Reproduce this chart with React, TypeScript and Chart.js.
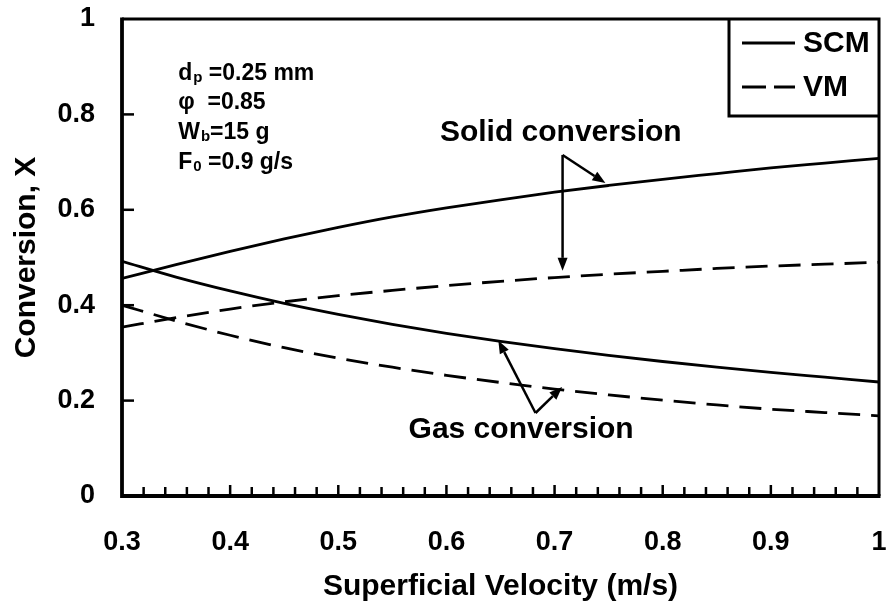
import React, { useEffect, useRef } from "react";
import { Chart, registerables } from "chart.js";

Chart.register(...registerables);

// ---- data ----
const velocity = [0.3, 0.35, 0.4, 0.45, 0.5, 0.55, 0.6, 0.65, 0.7, 0.75, 0.8, 0.85, 0.9, 0.95, 1.0];
const scmSolid = [0.456, 0.485, 0.513, 0.539, 0.563, 0.585, 0.604, 0.621, 0.637, 0.651, 0.664, 0.676, 0.688, 0.698, 0.708];
const scmGas = [0.492, 0.459, 0.43, 0.404, 0.381, 0.36, 0.341, 0.324, 0.309, 0.295, 0.282, 0.27, 0.259, 0.249, 0.239];
const vmSolid = [0.354, 0.374, 0.392, 0.407, 0.42, 0.431, 0.441, 0.45, 0.458, 0.465, 0.471, 0.477, 0.482, 0.486, 0.49];
const vmGas = [0.4, 0.367, 0.337, 0.311, 0.289, 0.27, 0.253, 0.238, 0.224, 0.212, 0.201, 0.191, 0.182, 0.175, 0.168];

const xTickValues = [0.3, 0.4, 0.5, 0.6, 0.7, 0.8, 0.9, 1];
const yTickValues = [0, 0.2, 0.4, 0.6, 0.8, 1];
const xMinorStep = 0.02;
const legendLabels = ["SCM", "VM"];
const paramLines = [
  { main: "d", sub: "p", rest: " =0.25 mm" },
  { main: "\u03C6", sub: "", rest: "  =0.85" },
  { main: "W", sub: "b", rest: "=15 g" },
  { main: "F", sub: "0", rest: " =0.9 g/s" },
];
const solidLabel = "Solid conversion";
const gasLabel = "Gas conversion";

// annotation anchors (data units)
const paramAnchor = { x: 0.352, y: [0.889, 0.828, 0.765, 0.702] };
const solidLabelAnchor = { x: 0.594, y: 0.761 };
const gasLabelAnchor = { x: 0.565, y: 0.138 };
const solidArrowFrom = { x: 0.7074, y: 0.715 };
const solidArrowTo = [{ x: 0.747, y: 0.656 }, { x: 0.7074, y: 0.472 }];
const gasArrowFrom = { x: 0.6824, y: 0.174 };
const gasArrowTo = [{ x: 0.648, y: 0.326 }, { x: 0.707, y: 0.2285 }];

const FONT = "'Liberation Sans', Arial, Helvetica, sans-serif";
const DASH = [22, 11];

function arrow(ctx: CanvasRenderingContext2D, x1: number, y1: number, x2: number, y2: number) {
  const ang = Math.atan2(y2 - y1, x2 - x1);
  const len = 13;
  const hw = 5;
  const bx = x2 - len * Math.cos(ang);
  const by = y2 - len * Math.sin(ang);
  ctx.beginPath();
  ctx.moveTo(x1, y1);
  ctx.lineTo(bx, by);
  ctx.stroke();
  ctx.beginPath();
  ctx.moveTo(x2, y2);
  ctx.lineTo(bx + hw * Math.sin(ang), by - hw * Math.cos(ang));
  ctx.lineTo(bx - hw * Math.sin(ang), by + hw * Math.cos(ang));
  ctx.closePath();
  ctx.fill();
}

const decorPlugin = {
  id: "decor",
  afterDraw(chart: any) {
    const ctx: CanvasRenderingContext2D = chart.ctx;
    const { left, right, top, bottom } = chart.chartArea;
    const xs = chart.scales.x;
    const ys = chart.scales.y;
    ctx.save();
    ctx.strokeStyle = "#000";
    ctx.fillStyle = "#000";
    ctx.lineCap = "butt";

    // frame
    ctx.lineWidth = 3;
    ctx.beginPath();
    ctx.moveTo(left, top);
    ctx.lineTo(right, top);
    ctx.moveTo(right, top - 1.5);
    ctx.lineTo(right, bottom);
    ctx.stroke();
    ctx.lineWidth = 3.8;
    ctx.beginPath();
    ctx.moveTo(left, top - 1.5);
    ctx.lineTo(left, bottom);
    ctx.lineTo(right + 1.5, bottom);
    ctx.stroke();

    // y ticks (inside)
    ctx.lineWidth = 2.5;
    yTickValues.forEach((v) => {
      if (v === 0 || v === 1) return;
      const y = ys.getPixelForValue(v);
      ctx.beginPath();
      ctx.moveTo(left, y);
      ctx.lineTo(left + 12, y);
      ctx.stroke();
    });
    // x ticks (inside), major + minor
    const xmin = xs.min;
    const xmax = xs.max;
    const n = Math.round((xmax - xmin) / xMinorStep);
    for (let i = 1; i < n; i++) {
      const v = xmin + i * xMinorStep;
      const isMajor = i % 5 === 0;
      const x = xs.getPixelForValue(v);
      ctx.beginPath();
      ctx.moveTo(x, bottom);
      ctx.lineTo(x, bottom - (isMajor ? 11 : 9));
      ctx.stroke();
    }

    // legend box
    const bw = 150;
    const bh = 97;
    const bx = right - bw;
    const by = top;
    ctx.lineWidth = 3;
    ctx.beginPath();
    ctx.moveTo(bx, by);
    ctx.lineTo(bx, by + bh);
    ctx.lineTo(right, by + bh);
    ctx.stroke();
    ctx.font = `bold 30px ${FONT}`;
    ctx.textBaseline = "middle";
    ctx.textAlign = "left";
    legendLabels.forEach((lab, i) => {
      const ly = by + 24 + i * 44;
      ctx.lineWidth = 3;
      ctx.setLineDash(i === 1 ? [24, 8] : []);
      ctx.beginPath();
      ctx.moveTo(bx + 13, ly);
      ctx.lineTo(bx + 66, ly);
      ctx.stroke();
      ctx.setLineDash([]);
      ctx.fillText(lab, bx + 74, ly + 1);
    });

    // parameter text block
    ctx.textBaseline = "alphabetic";
    const px = xs.getPixelForValue(paramAnchor.x);
    paramLines.forEach((ln, i) => {
      const cy = ys.getPixelForValue(paramAnchor.y[i]);
      const base = cy + 8;
      let x = px;
      ctx.font = `bold 23px ${FONT}`;
      ctx.fillText(ln.main, x, base);
      x += ctx.measureText(ln.main).width;
      if (ln.sub) {
        ctx.font = `bold 15px ${FONT}`;
        ctx.fillText(ln.sub, x + 1, base + 2);
        x += ctx.measureText(ln.sub).width + 1;
      }
      ctx.font = `bold 23px ${FONT}`;
      ctx.fillText(ln.rest, x, base);
    });

    // big labels
    ctx.font = `bold 30px ${FONT}`;
    ctx.textBaseline = "middle";
    ctx.fillText(solidLabel, xs.getPixelForValue(solidLabelAnchor.x), ys.getPixelForValue(solidLabelAnchor.y));
    ctx.fillText(gasLabel, xs.getPixelForValue(gasLabelAnchor.x), ys.getPixelForValue(gasLabelAnchor.y));

    // arrows
    ctx.lineWidth = 2.5;
    const drawGroup = (from: any, tos: any[]) => {
      const fx = xs.getPixelForValue(from.x);
      const fy = ys.getPixelForValue(from.y);
      tos.forEach((t) => arrow(ctx, fx, fy, xs.getPixelForValue(t.x), ys.getPixelForValue(t.y)));
    };
    drawGroup(solidArrowFrom, solidArrowTo);
    drawGroup(gasArrowFrom, gasArrowTo);

    ctx.restore();
  },
};

export default function App() {
  const ref = useRef<HTMLCanvasElement | null>(null);
  useEffect(() => {
    document.body.style.margin = "0";
    const canvas = ref.current;
    if (!canvas) return;
    const mk = (label: string, data: number[], dashed: boolean) => ({
      label,
      data: velocity.map((v, i) => ({ x: v, y: data[i] })),
      borderColor: "#000",
      backgroundColor: "#000",
      borderWidth: 2.8,
      borderDash: dashed ? DASH : [],
      pointRadius: 0,
      tension: 0.4,
      cubicInterpolationMode: "monotone" as const,
      fill: false,
    });
    const chart = new Chart(canvas, {
      type: "line",
      data: {
        datasets: [
          mk("SCM solid", scmSolid, false),
          mk("SCM gas", scmGas, false),
          mk("VM solid", vmSolid, true),
          mk("VM gas", vmGas, true),
        ],
      },
      options: {
        responsive: false,
        animation: false,
        events: [],
        layout: { padding: { top: 19, right: 8, left: 0, bottom: 0 } },
        plugins: { legend: { display: false }, tooltip: { enabled: false } },
        scales: {
          x: {
            type: "linear",
            min: 0.3,
            max: 1,
            afterBuildTicks: (s: any) => {
              s.ticks = xTickValues.map((v) => ({ value: v }));
            },
            afterFit: (s: any) => {
              s.height = 116;
              s.paddingLeft = 0;
              s.paddingRight = 0;
              s.paddingTop = 0;
              s.paddingBottom = 0;
            },
            grid: { display: false, drawTicks: false },
            border: { display: false },
            ticks: {
              color: "#000",
              font: { family: FONT, size: 27, weight: "bold" },
              padding: 30,
              maxRotation: 0,
              autoSkip: false,
              callback: (v: any) => String(v),
            },
            title: {
              display: true,
              text: "Superficial Velocity (m/s)",
              color: "#000",
              font: { family: FONT, size: 30, weight: "bold" },
              padding: { top: 0, bottom: 7 },
            },
          },
          y: {
            type: "linear",
            min: 0,
            max: 1,
            afterBuildTicks: (s: any) => {
              s.ticks = yTickValues.map((v) => ({ value: v }));
            },
            afterFit: (s: any) => {
              s.width = 122;
              s.paddingLeft = 0;
              s.paddingRight = 0;
              s.paddingTop = 0;
              s.paddingBottom = 0;
            },
            grid: { display: false, drawTicks: false },
            border: { display: false },
            ticks: {
              color: "#000",
              font: { family: FONT, size: 27, weight: "bold" },
              padding: 27,
              autoSkip: false,
              callback: (v: any) => String(v),
            },
            title: {
              display: true,
              text: "Conversion, X",
              color: "#000",
              font: { family: FONT, size: 30, weight: "bold" },
              padding: { top: 9, bottom: 0 },
            },
          },
        },
      },
      plugins: [decorPlugin],
    } as any);
    return () => chart.destroy();
  }, []);
  return (
    <div style={{ position: "absolute", left: 0, top: 0, width: 887, height: 612, background: "#fff" }}>
      <canvas ref={ref} width={887} height={612} style={{ display: "block" }} />
    </div>
  );
}
